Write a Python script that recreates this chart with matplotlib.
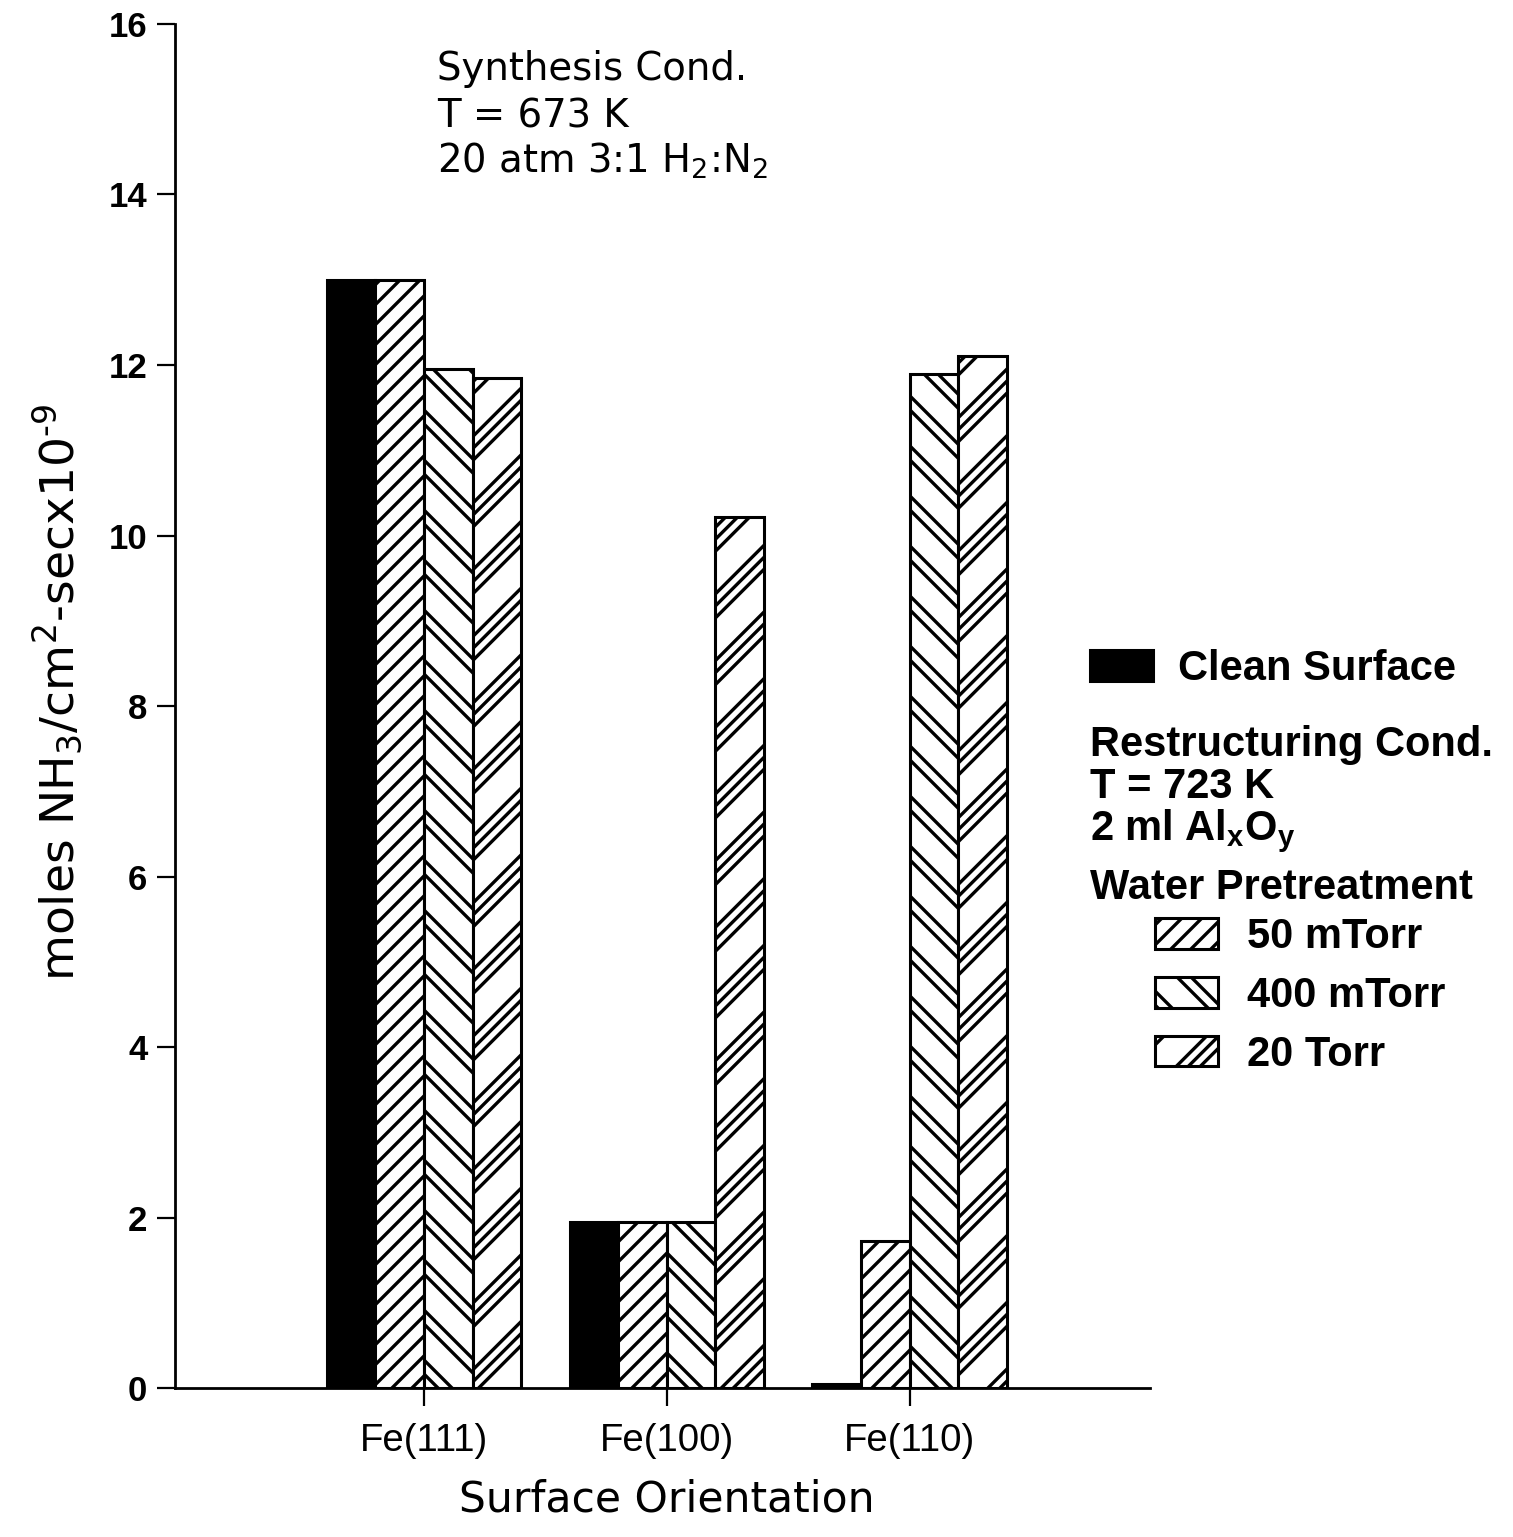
import numpy as np
import matplotlib
matplotlib.use("Agg")
import matplotlib.pyplot as plt
import matplotlib.hatch as mhatch
from matplotlib.path import Path
from matplotlib.patches import Patch
from matplotlib.font_manager import FontProperties

# ---------------- data ----------------
surfaces = ["Fe(111)", "Fe(100)", "Fe(110)"]
series_labels = ["Clean Surface", "50 mTorr", "400 mTorr", "20 Torr"]
clean = [13.0, 1.95, 0.05]
mtorr50 = [13.0, 1.95, 1.72]
mtorr400 = [11.95, 1.95, 11.9]
torr20 = [11.85, 10.22, 12.1]
yticks = [0, 2, 4, 6, 8, 10, 12, 14, 16]
synthesis_lines = ["Synthesis Cond.", "T = 673 K", "20 atm 3:1 H$_2$:N$_2$"]
restructuring_lines = ["Restructuring Cond.", "T = 723 K", "2 ml Al$_x$O$_y$",
                       "Water Pretreatment"]
xlabel = "Surface Orientation"
ylabel = "moles NH$_3$/cm$^2$-secx10$^{\u20109}$"

# ---------------- custom hatches (single / paired / tripled lines) ----------------
def make_hatch(period, offsets, slope):
    verts, codes = [], []
    n = int(np.ceil(3.0 / period)) + 2
    for k in range(-n, n + 1):
        for off in offsets:
            c = k * period + off
            x0, x1 = -0.3, 1.3
            y0, y1 = slope * x0 + c, slope * x1 + c
            if max(y0, y1) < -0.4 or min(y0, y1) > 1.4:
                continue
            verts += [(x0, y0), (x1, y1)]
            codes += [Path.MOVETO, Path.LINETO]
    return Path(np.array(verts, float), codes)

_custom_hatches = {
    "/": make_hatch(0.10, [0.0], 1.0),                # 50 mTorr: single lines
    "\\": make_hatch(0.25, [0.0, 0.07], -1.0),        # 400 mTorr: pairs
    "//": make_hatch(1 / 3, [0.0, 0.06, 0.12], 1.0),  # 20 Torr: triples
}
_orig_get_path = mhatch.get_path


def _get_path(hatchpattern, density=6):
    if hatchpattern in _custom_hatches:
        return _custom_hatches[hatchpattern]
    return _orig_get_path(hatchpattern, density)


mhatch.get_path = _get_path

plt.rcParams["hatch.linewidth"] = 1.2
plt.rcParams["mathtext.default"] = "regular"
plt.rcParams["font.family"] = ["DejaVu Sans"]

# ---------------- figure ----------------
DPI = 200
W, H = 1513, 1537
fig = plt.figure(figsize=(W / DPI, H / DPI), dpi=DPI)
ax = fig.add_axes([0.1157, 0.0969, 0.6444, 0.8875])

x = np.arange(len(surfaces))
w = 0.2
series = [clean, mtorr50, mtorr400, torr20]
faces = ["black", "white", "white", "white"]
hatches = [None, "/", "\\", "//"]
for i, (vals, fc, h) in enumerate(zip(series, faces, hatches)):
    ax.bar(x + (i - 1.5) * w, vals, w, facecolor=fc, edgecolor="black",
           linewidth=1.1, hatch=h, zorder=2)

ax.set_xlim(-1.025, 2.99)
ax.set_ylim(0, 16)
ax.set_yticks(yticks)
ax.set_xticks(x)
ax.set_xticklabels(surfaces, fontsize=13.8, family="Liberation Sans")
ax.set_yticklabels([str(t) for t in yticks], fontsize=12.5,
                   family="Liberation Sans", fontweight="bold")
for s in ["top", "right"]:
    ax.spines[s].set_visible(False)
for s in ["left", "bottom"]:
    ax.spines[s].set_linewidth(1.0)
ax.tick_params(axis="y", direction="out", length=6.5, width=0.8, pad=3.5)
ax.tick_params(axis="x", direction="out", length=6.5, width=0.8, pad=6)

# axis titles
fig.text(667 / W, 1 - 1511 / H, xlabel, fontsize=15.3, ha="center",
         va="baseline")
fig.text(74 / W, 1 - 692 / H, ylabel, fontsize=17, rotation=90,
         rotation_mode="anchor", ha="center", va="baseline")

# synthesis conditions
for txt, yb in zip(synthesis_lines, [80, 127, 173]):
    fig.text(437 / W, 1 - yb / H, txt, fontsize=13.9, ha="left",
             va="baseline")

# legend block
lfont = dict(family="Liberation Sans", weight="bold", size=15)
leg1 = fig.legend(handles=[Patch(facecolor="black", edgecolor="black",
                                 linewidth=1.1)],
                  labels=[series_labels[0]], loc="center left",
                  bbox_to_anchor=(1090 / W, 1 - 669 / H),
                  bbox_transform=fig.transFigure, frameon=False,
                  prop=lfont, borderpad=0, borderaxespad=0,
                  handlelength=1.5, handleheight=0.78, handletextpad=0.62)
for txt, yb in zip(restructuring_lines, [756, 798, 840, 899]):
    fig.text(1090 / W, 1 - yb / H, txt, ha="left", va="baseline",
             fontproperties=FontProperties(**lfont))
handles2 = [Patch(facecolor="white", edgecolor="black", linewidth=1.1, hatch=h)
            for h in hatches[1:]]
leg2 = fig.legend(handles=handles2, labels=series_labels[1:],
                  loc="center left",
                  bbox_to_anchor=(1155 / W, 1 - 996 / H),
                  bbox_transform=fig.transFigure, frameon=False,
                  prop=lfont, borderpad=0, borderaxespad=0,
                  handlelength=1.5, handleheight=0.75, handletextpad=0.7,
                  labelspacing=0.45)

fig.savefig("out.png", dpi=DPI)
